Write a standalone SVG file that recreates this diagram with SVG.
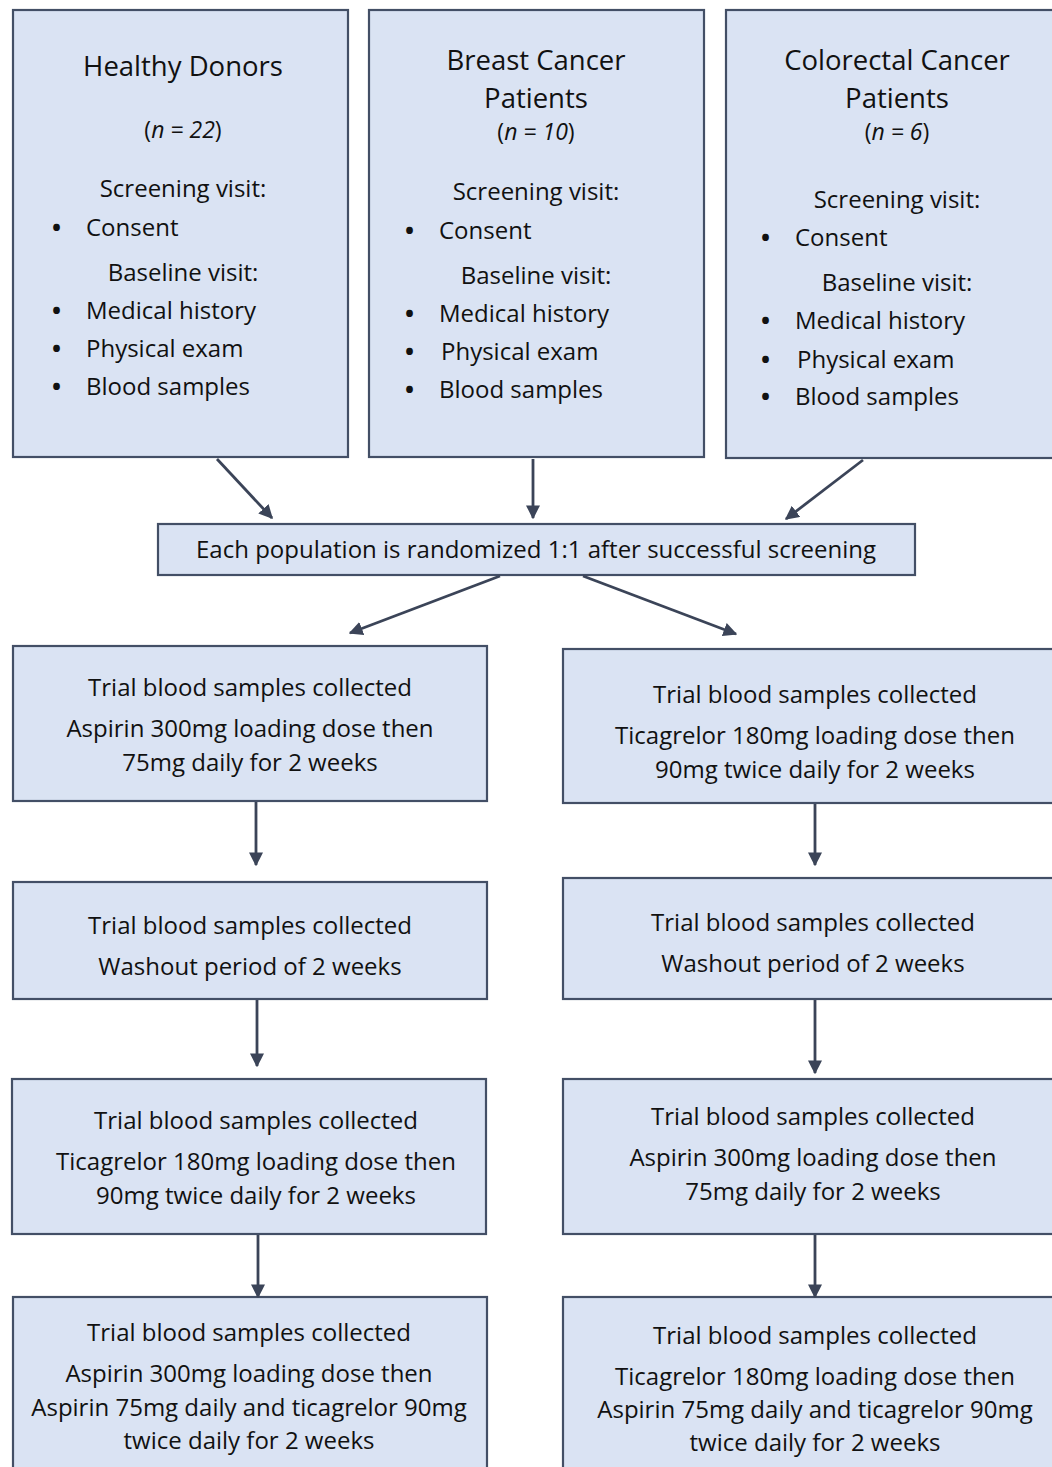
<svg xmlns="http://www.w3.org/2000/svg" width="1052" height="1467" viewBox="0 0 1052 1467">
<defs>
<marker id="ah" viewBox="0 0 10 10" refX="9" refY="5" markerWidth="5" markerHeight="5" orient="auto" markerUnits="strokeWidth">
<path d="M0,0 L10,5 L0,10 z" fill="#3b4458"/>
</marker>
<style>
.box{fill:#dae3f3;stroke:#434f66;stroke-width:2.2}
.t{font-family:"Open Sans",Lato,sans-serif;font-size:24px;fill:#111;text-anchor:middle}
.h{font-size:27.5px}
.n{font-size:23px}
.l{text-anchor:start}
.b{text-anchor:start;font-weight:700}
.c{stroke:#3b4458;stroke-width:2.8;fill:none;marker-end:url(#ah)}
</style>
</defs>
<rect width="1052" height="1467" fill="#fff"/>
<g id="hd">
<rect class="box" x="13" y="10" width="335" height="447"/>
<text class="t h" x="183" y="76">Healthy Donors</text>
<text class="t n" x="183" y="138">(<tspan font-style="italic">n = 22</tspan>)</text>
<text class="t" x="183" y="197">Screening visit:</text>
<text class="t b" x="52" y="236">•</text><text class="t l" x="86" y="236">Consent</text>
<text class="t" x="183" y="281">Baseline visit:</text>
<text class="t b" x="52" y="319">•</text><text class="t l" x="86" y="319">Medical history</text>
<text class="t b" x="52" y="357">•</text><text class="t l" x="86" y="357">Physical exam</text>
<text class="t b" x="52" y="395">•</text><text class="t l" x="86" y="395">Blood samples</text>
</g>
<g id="bc">
<rect class="box" x="369" y="10" width="335" height="447"/>
<text class="t h" x="536" y="70">Breast Cancer</text>
<text class="t h" x="536" y="108">Patients</text>
<text class="t n" x="536" y="140">(<tspan font-style="italic">n = 10</tspan>)</text>
<text class="t" x="536" y="200">Screening visit:</text>
<text class="t b" x="405" y="239">•</text><text class="t l" x="439" y="239">Consent</text>
<text class="t" x="536" y="284">Baseline visit:</text>
<text class="t b" x="405" y="322">•</text><text class="t l" x="439" y="322">Medical history</text>
<text class="t b" x="405" y="360">•</text><text class="t l" x="441" y="360">Physical exam</text>
<text class="t b" x="405" y="398">•</text><text class="t l" x="439" y="398">Blood samples</text>
</g>
<g id="cc">
<rect class="box" x="726" y="10" width="340" height="448"/>
<text class="t h" x="897" y="70">Colorectal Cancer</text>
<text class="t h" x="897" y="108">Patients</text>
<text class="t n" x="897" y="140">(<tspan font-style="italic">n = 6</tspan>)</text>
<text class="t" x="897" y="208">Screening visit:</text>
<text class="t b" x="761" y="246">•</text><text class="t l" x="795" y="246">Consent</text>
<text class="t" x="897" y="291">Baseline visit:</text>
<text class="t b" x="761" y="329">•</text><text class="t l" x="795" y="329">Medical history</text>
<text class="t b" x="761" y="368">•</text><text class="t l" x="797" y="368">Physical exam</text>
<text class="t b" x="761" y="405">•</text><text class="t l" x="795" y="405">Blood samples</text>
</g>
<g id="rand">
<rect class="box" x="158" y="524" width="757" height="51"/>
<text class="t" x="536" y="558">Each population is randomized 1:1 after successful screening</text>
</g>
<g id="l1">
<rect class="box" x="13" y="646" width="474" height="155"/>
<text class="t" x="250" y="696">Trial blood samples collected</text>
<text class="t" x="250" y="737">Aspirin 300mg loading dose then</text>
<text class="t" x="250" y="771">75mg daily for 2 weeks</text>
</g>
<g id="l2">
<rect class="box" x="13" y="882" width="474" height="117"/>
<text class="t" x="250" y="934">Trial blood samples collected</text>
<text class="t" x="250" y="975">Washout period of 2 weeks</text>
</g>
<g id="l3">
<rect class="box" x="12" y="1079" width="474" height="155"/>
<text class="t" x="256" y="1129">Trial blood samples collected</text>
<text class="t" x="256" y="1170">Ticagrelor 180mg loading dose then</text>
<text class="t" x="256" y="1204">90mg twice daily for 2 weeks</text>
</g>
<g id="l4">
<rect class="box" x="13" y="1297" width="474" height="180"/>
<text class="t" x="249" y="1341">Trial blood samples collected</text>
<text class="t" x="249" y="1382">Aspirin 300mg loading dose then</text>
<text class="t" x="249" y="1416">Aspirin 75mg daily and ticagrelor 90mg</text>
<text class="t" x="249" y="1449">twice daily for 2 weeks</text>
</g>
<g id="r1">
<rect class="box" x="563" y="649" width="500" height="154"/>
<text class="t" x="815" y="703">Trial blood samples collected</text>
<text class="t" x="815" y="744">Ticagrelor 180mg loading dose then</text>
<text class="t" x="815" y="778">90mg twice daily for 2 weeks</text>
</g>
<g id="r2">
<rect class="box" x="563" y="878" width="500" height="121"/>
<text class="t" x="813" y="931">Trial blood samples collected</text>
<text class="t" x="813" y="972">Washout period of 2 weeks</text>
</g>
<g id="r3">
<rect class="box" x="563" y="1079" width="500" height="155"/>
<text class="t" x="813" y="1125">Trial blood samples collected</text>
<text class="t" x="813" y="1166">Aspirin 300mg loading dose then</text>
<text class="t" x="813" y="1200">75mg daily for 2 weeks</text>
</g>
<g id="r4">
<rect class="box" x="563" y="1297" width="500" height="180"/>
<text class="t" x="815" y="1344">Trial blood samples collected</text>
<text class="t" x="815" y="1385">Ticagrelor 180mg loading dose then</text>
<text class="t" x="815" y="1418">Aspirin 75mg daily and ticagrelor 90mg</text>
<text class="t" x="815" y="1451">twice daily for 2 weeks</text>
</g>
<g id="connectors">
<line class="c" x1="217" y1="459" x2="272" y2="518"/>
<line class="c" x1="533" y1="459" x2="533" y2="518"/>
<line class="c" x1="863" y1="460" x2="786" y2="519"/>
<line class="c" x1="500" y1="576" x2="350" y2="633"/>
<line class="c" x1="583" y1="576" x2="736" y2="634"/>
<line class="c" x1="256" y1="802" x2="256" y2="865"/>
<line class="c" x1="257" y1="1000" x2="257" y2="1066"/>
<line class="c" x1="258" y1="1235" x2="258" y2="1297"/>
<line class="c" x1="815" y1="804" x2="815" y2="865"/>
<line class="c" x1="815" y1="1000" x2="815" y2="1073"/>
<line class="c" x1="815" y1="1235" x2="815" y2="1297"/>
</g>
</svg>
